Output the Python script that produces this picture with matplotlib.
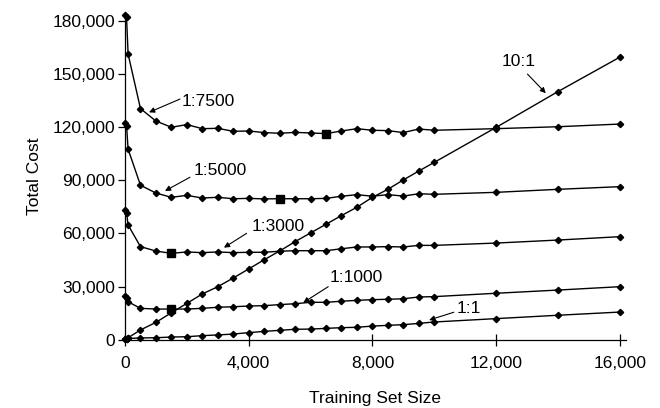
import matplotlib.pyplot as plt
from matplotlib.ticker import FuncFormatter

plt.rcParams['font.family'] = ['Liberation Sans', 'DejaVu Sans']

# training set sizes where each curve was evaluated
sizes = [10, 50, 100, 500, 1000, 1500, 2000, 2500, 3000, 3500, 4000, 4500,
         5000, 5500, 6000, 6500, 7000, 7500, 8000, 8500, 9000, 9500, 10000,
         12000, 14000, 16000]

cost_7500 = [183300, 181800, 161200, 130400, 123400, 119900, 121400, 119100,
             119300, 117600, 117800, 116900, 116500, 117000, 116700, 116300,
             117800, 119100, 118200, 118000, 116900, 118900, 118200,
             119100, 120200, 121700]
cost_5000 = [122100, 120800, 107600, 87200, 82800, 80400, 81500, 80000,
             80400, 79600, 79800, 79500, 79600, 79600, 79600, 79800,
             81000, 81900, 81000, 81900, 81100, 82400, 82100,
             83200, 84900, 86400]
cost_3000 = [73200, 71500, 64800, 52600, 50100, 48800, 49600, 49200,
             49600, 49200, 49400, 49400, 50000, 50300, 50300, 50300,
             51400, 52400, 52400, 52600, 52400, 53300, 53300,
             54600, 56300, 58200]
cost_1000 = [24700, 23800, 21500, 17800, 17400, 17400, 17400, 17800,
             18400, 18700, 19100, 19300, 19900, 20400, 21200, 21200,
             21800, 22300, 22700, 22900, 23200, 24200, 24400,
             26300, 28100, 30000]
cost_1_1 = [700, 750, 800, 1100, 1250, 1600, 1800, 2400,
            2800, 3300, 4100, 4800, 5400, 6000, 6100, 6500,
            6900, 7100, 7800, 8200, 8600, 9300, 10100,
            12000, 13900, 15700]
cost_10_1 = [300, 700, 1200, 5600, 9900, 15300, 20600, 25900,
             30000, 34900, 40000, 45200, 50100, 55400, 60300, 65200,
             70100, 74800, 80400, 84900, 90200, 95200, 100100,
             119800, 140000, 159400]

# optimal training set size for each cost ratio
optimum_x = [6500, 5000, 1500, 1500]
optimum_y = [116300, 79600, 48800, 17400]

labels = ['1:7500', '1:5000', '1:3000', '1:1000', '1:1', '10:1']
# (text x, text y, arrow tail x, tail y, arrow head x, head y)
label_spots = [
    (1842, 134700, 1778, 135800, 776, 128300),
    (2207, 95400, 2101, 91700, 1293, 84000),
    (4095, 63700, 3933, 60100, 3200, 52000),
    (6603, 35200, 6571, 30000, 5763, 21000),
    (10740, 17900, 10634, 15600, 9835, 11200),
    (12195, 157100, 13015, 149900, 13607, 139100),
]

fig = plt.figure(figsize=(6.6, 4.08), dpi=100)
ax = fig.add_axes([0.1894, 0.1669, 0.759, 0.8042])

for series in [cost_7500, cost_5000, cost_3000, cost_1000, cost_1_1, cost_10_1]:
    ax.plot(sizes, series, color='black', lw=1, marker='D', markersize=3.2,
            clip_on=False, zorder=3)

ax.plot(optimum_x, optimum_y, linestyle='none', marker='s', markersize=6.2,
        color='black', zorder=4)

for text, (tx, ty, ax0, ay0, hx, hy) in zip(labels, label_spots):
    ax.text(tx, ty, text, fontsize=12.5, ha='left', va='center')
    ax.annotate('', xy=(hx, hy), xytext=(ax0, ay0),
                arrowprops=dict(arrowstyle='-|>', color='black', lw=0.8,
                                mutation_scale=8, shrinkA=0, shrinkB=0))

ax.set_xlim(0, 16200)
ax.set_ylim(0, 185000)
ax.set_xticks([0, 4000, 8000, 12000, 16000])
ax.set_yticks(range(0, 180001, 30000))
fmt = FuncFormatter(lambda v, pos: '{:,.0f}'.format(v))
ax.xaxis.set_major_formatter(fmt)
ax.yaxis.set_major_formatter(fmt)

ax.spines['top'].set_visible(False)
ax.spines['right'].set_visible(False)
for side in ['left', 'bottom']:
    ax.spines[side].set_linewidth(0.9)
ax.tick_params(axis='x', direction='inout', length=9, width=0.9, labelsize=12.5, pad=7)
ax.tick_params(axis='y', direction='out', length=5, width=0.9, labelsize=12.5, pad=2)

ax.set_xlabel('Training Set Size', fontsize=12.5)
ax.set_ylabel('Total Cost', fontsize=12.5)
ax.xaxis.set_label_coords(0.5, -0.155)
ax.yaxis.set_label_coords(-0.166, 0.5)

fig.savefig('out.png', dpi=100)
